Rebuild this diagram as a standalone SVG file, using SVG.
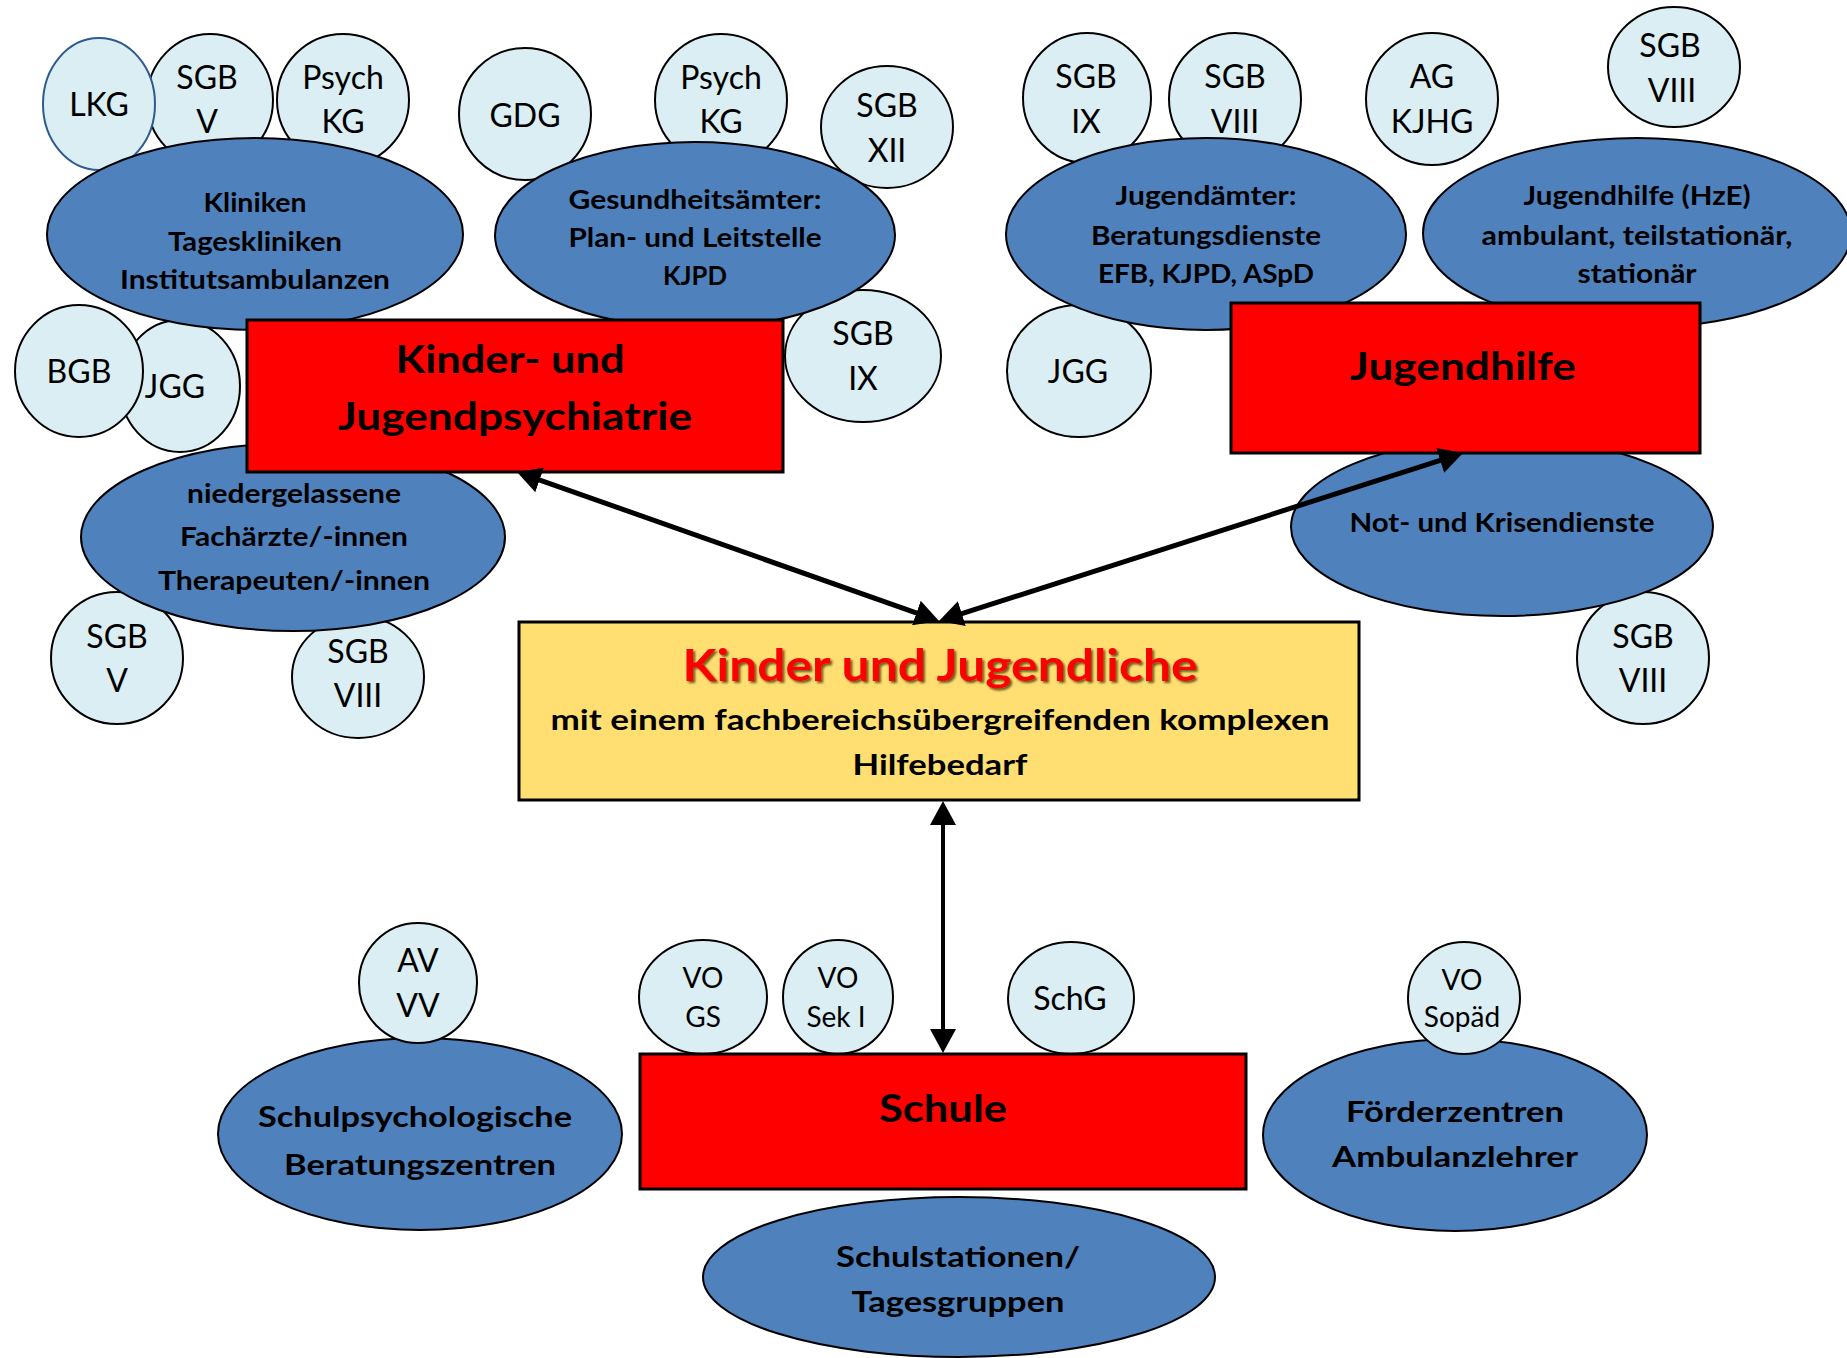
<svg xmlns="http://www.w3.org/2000/svg" width="1847" height="1358" viewBox="0 0 1847 1358">
<style>
.sat{fill:#DAEEF3;stroke:#000;stroke-width:2}
.org{fill:#4F81BD;stroke:#000;stroke-width:2}
.box{fill:#FF0000;stroke:#000;stroke-width:3}
.ybox{fill:#FFDF71;stroke:#000;stroke-width:3}
text{font-family:Lato,"Liberation Sans",sans-serif;text-anchor:middle;fill:#000}
.st{font-size:32px}
.ss{font-size:28px}
.b{font-weight:bold;font-size:26px}
.b28{font-weight:bold;font-size:28px}
.big{font-weight:bold;font-size:39px}
.conn{stroke:#000;fill:none;marker-start:url(#ah);marker-end:url(#ah)}
</style>
<defs>
<marker id="ah" viewBox="0 0 24 26" markerWidth="24" markerHeight="26" refX="14" refY="13" markerUnits="userSpaceOnUse" orient="auto-start-reverse">
<path d="M0,0 L24,13 L0,26 z" fill="#000"/>
</marker>
<filter id="shadow" x="-5%" y="-20%" width="110%" height="140%">
<feDropShadow dx="2" dy="2" stdDeviation="1" flood-color="#3a3000" flood-opacity="0.75"/>
</filter>
</defs>
<rect width="1847" height="1358" fill="#fff"/>

<!-- satellites behind -->
<g id="n-sgbv-top"><ellipse class="sat" cx="210" cy="100" rx="63" ry="66"/><text class="st" x="207" y="89">SGB</text><text class="st" x="207" y="133">V</text></g>
<g id="n-psychkg-1"><ellipse class="sat" cx="343" cy="100" rx="66" ry="66"/><text class="st" x="343" y="89">Psych</text><text class="st" x="343" y="133">KG</text></g>
<g id="n-lkg"><ellipse class="sat" cx="99" cy="104" rx="56" ry="66" style="stroke:#2F5A8E"/><text class="st" x="99" y="116">LKG</text></g>
<g id="n-gdg"><ellipse class="sat" cx="525" cy="114" rx="66" ry="66"/><text class="st" x="525" y="127">GDG</text></g>
<g id="n-psychkg-2"><ellipse class="sat" cx="721" cy="100" rx="66" ry="66"/><text class="st" x="721" y="89">Psych</text><text class="st" x="721" y="133">KG</text></g>
<g id="n-sgbxii"><ellipse class="sat" cx="887" cy="127" rx="66" ry="61"/><text class="st" x="887" y="117">SGB</text><text class="st" x="887" y="162">XII</text></g>
<g id="n-jgg-left"><ellipse class="sat" cx="180" cy="386" rx="60" ry="66"/><text class="st" x="175" y="398">JGG</text></g>
<g id="n-bgb"><ellipse class="sat" cx="79" cy="371" rx="64" ry="66"/><text class="st" x="79" y="383">BGB</text></g>
<g id="n-sgbix-mid"><ellipse class="sat" cx="863" cy="356" rx="78" ry="66"/><text class="st" x="863" y="345">SGB</text><text class="st" x="863" y="390">IX</text></g>
<g id="n-sgbv-low"><ellipse class="sat" cx="117" cy="658" rx="66" ry="66"/><text class="st" x="117" y="648">SGB</text><text class="st" x="117" y="692">V</text></g>
<g id="n-sgbviii-low"><ellipse class="sat" cx="358" cy="677" rx="66" ry="61"/><text class="st" x="358" y="663">SGB</text><text class="st" x="358" y="707">VIII</text></g>
<g id="n-sgbix-top"><ellipse class="sat" cx="1087" cy="98" rx="64" ry="65"/><text class="st" x="1086" y="88">SGB</text><text class="st" x="1086" y="133">IX</text></g>
<g id="n-sgbviii-top"><ellipse class="sat" cx="1235" cy="99" rx="66" ry="66"/><text class="st" x="1235" y="88">SGB</text><text class="st" x="1235" y="133">VIII</text></g>
<g id="n-agkjhg"><ellipse class="sat" cx="1432" cy="99" rx="66" ry="66"/><text class="st" x="1432" y="88">AG</text><text class="st" x="1432" y="133">KJHG</text></g>
<g id="n-sgbviii-tr"><ellipse class="sat" cx="1674" cy="67" rx="66" ry="60"/><text class="st" x="1670" y="57">SGB</text><text class="st" x="1672" y="102">VIII</text></g>
<g id="n-jgg-right"><ellipse class="sat" cx="1079" cy="371" rx="72" ry="66"/><text class="st" x="1078" y="383">JGG</text></g>
<g id="n-sgbviii-rl"><ellipse class="sat" cx="1643" cy="658" rx="66" ry="66"/><text class="st" x="1643" y="648">SGB</text><text class="st" x="1643" y="692">VIII</text></g>
<g id="n-vogs"><ellipse class="sat" cx="703" cy="997" rx="64" ry="57"/><text class="ss" x="703" y="988">VO</text><text class="ss" x="703" y="1027">GS</text></g>
<g id="n-vosek"><ellipse class="sat" cx="838" cy="997" rx="55" ry="57"/><text class="ss" x="838" y="988">VO</text><text class="ss" x="836" y="1027">Sek I</text></g>
<g id="n-schg"><ellipse class="sat" cx="1071" cy="998" rx="63" ry="56"/><text class="st" x="1070" y="1010">SchG</text></g>

<!-- organisations -->
<g id="n-kliniken"><ellipse class="org" cx="255" cy="234" rx="208" ry="96"/>
<text class="b" x="255" y="212" textLength="103" lengthAdjust="spacingAndGlyphs">Kliniken</text>
<text class="b" x="255" y="251" textLength="174" lengthAdjust="spacingAndGlyphs">Tageskliniken</text>
<text class="b" x="255" y="289" textLength="270" lengthAdjust="spacingAndGlyphs">Institutsambulanzen</text></g>
<g id="n-gesundheitsaemter"><ellipse class="org" cx="695" cy="235" rx="200" ry="93"/>
<text class="b" x="695" y="209" textLength="253" lengthAdjust="spacingAndGlyphs">Gesundheitsämter:</text>
<text class="b" x="695" y="247" textLength="253" lengthAdjust="spacingAndGlyphs">Plan- und Leitstelle</text>
<text class="b" x="695" y="285" textLength="64" lengthAdjust="spacingAndGlyphs">KJPD</text></g>
<g id="n-jugendaemter"><ellipse class="org" cx="1206" cy="234" rx="200" ry="96"/>
<text class="b" x="1206" y="205" textLength="181" lengthAdjust="spacingAndGlyphs">Jugendämter:</text>
<text class="b" x="1206" y="245" textLength="230" lengthAdjust="spacingAndGlyphs">Beratungsdienste</text>
<text class="b" x="1206" y="283" textLength="216" lengthAdjust="spacingAndGlyphs">EFB, KJPD, ASpD</text></g>
<g id="n-hze"><ellipse class="org" cx="1637" cy="233" rx="214" ry="95"/>
<text class="b" x="1637" y="205" textLength="227" lengthAdjust="spacingAndGlyphs">Jugendhilfe (HzE)</text>
<text class="b" x="1637" y="245" textLength="311" lengthAdjust="spacingAndGlyphs">ambulant, teilstationär,</text>
<text class="b" x="1637" y="283" textLength="119" lengthAdjust="spacingAndGlyphs">stationär</text></g>
<g id="n-niedergelassene"><ellipse class="org" cx="293" cy="537" rx="212" ry="94"/>
<text class="b" x="294" y="503" textLength="214" lengthAdjust="spacingAndGlyphs">niedergelassene</text>
<text class="b" x="294" y="546" textLength="228" lengthAdjust="spacingAndGlyphs">Fachärzte/-innen</text>
<text class="b" x="294" y="590" textLength="272" lengthAdjust="spacingAndGlyphs">Therapeuten/-innen</text></g>
<g id="n-krisendienste"><ellipse class="org" cx="1502" cy="527" rx="211" ry="89"/>
<text class="b" x="1502" y="532" textLength="305" lengthAdjust="spacingAndGlyphs">Not- und Krisendienste</text></g>
<g id="n-schulpsych"><ellipse class="org" cx="420" cy="1134" rx="202" ry="96"/>
<text class="b28" x="415" y="1127" textLength="314" lengthAdjust="spacingAndGlyphs">Schulpsychologische</text>
<text class="b28" x="420" y="1175" textLength="272" lengthAdjust="spacingAndGlyphs">Beratungszentren</text></g>
<g id="n-foerderzentren"><ellipse class="org" cx="1455" cy="1135" rx="192" ry="96"/>
<text class="b28" x="1455" y="1122" textLength="218" lengthAdjust="spacingAndGlyphs">Förderzentren</text>
<text class="b28" x="1455" y="1167" textLength="246" lengthAdjust="spacingAndGlyphs">Ambulanzlehrer</text></g>
<g id="n-schulstationen"><ellipse class="org" cx="959" cy="1277" rx="256" ry="80"/>
<text class="b28" x="958" y="1267" textLength="244" lengthAdjust="spacingAndGlyphs">Schulstationen/</text>
<text class="b28" x="958" y="1312" textLength="213" lengthAdjust="spacingAndGlyphs">Tagesgruppen</text></g>

<!-- satellites on top -->
<g id="n-avvv"><ellipse class="sat" cx="418" cy="983" rx="59" ry="60"/><text class="st" x="418" y="972">AV</text><text class="st" x="418" y="1017">VV</text></g>
<g id="n-vosopad"><ellipse class="sat" cx="1464" cy="998" rx="56" ry="56"/><text class="ss" x="1462" y="990">VO</text><text class="ss" x="1462" y="1027">Sopäd</text></g>

<!-- main boxes -->
<g id="n-kjp"><rect class="box" x="247" y="320" width="536" height="152"/>
<text class="big" x="510" y="373" textLength="229" lengthAdjust="spacingAndGlyphs">Kinder- und</text>
<text class="big" x="515" y="430" textLength="354" lengthAdjust="spacingAndGlyphs">Jugendpsychiatrie</text></g>
<g id="n-jugendhilfe"><rect class="box" x="1231" y="303" width="469" height="150"/>
<text class="big" x="1463" y="380" textLength="226" lengthAdjust="spacingAndGlyphs">Jugendhilfe</text></g>
<g id="n-schule"><rect class="box" x="640" y="1054" width="606" height="135"/>
<text class="big" x="943" y="1122" style="font-size:38px" textLength="128" lengthAdjust="spacingAndGlyphs">Schule</text></g>
<g id="n-kinder"><rect class="ybox" x="519" y="622" width="840" height="178"/>
<text x="940" y="681" style="font-weight:bold;font-size:44px;fill:#FF0000" filter="url(#shadow)" textLength="515" lengthAdjust="spacingAndGlyphs">Kinder und Jugendliche</text>
<text class="b" x="940" y="730" style="font-size:29px" textLength="779" lengthAdjust="spacingAndGlyphs">mit einem fachbereichsübergreifenden komplexen</text>
<text class="b" x="940" y="775" style="font-size:29px" textLength="175" lengthAdjust="spacingAndGlyphs">Hilfebedarf</text></g>

<!-- connectors -->
<g id="connectors">
<path class="conn" stroke-width="5" d="M526.4,475.3 L929.6,617.7"/>
<path class="conn" stroke-width="5" d="M948.5,617.9 L1453.5,456.1"/>
<path class="conn" stroke-width="4" d="M943,811 L943,1043"/>
</g>
</svg>
